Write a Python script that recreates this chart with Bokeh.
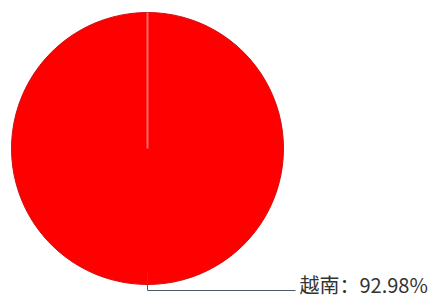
import math
from bokeh.plotting import figure
from bokeh.models import ColumnDataSource, Range1d
from bokeh.core.properties import value
from bokeh.embed import file_html
from bokeh.resources import INLINE

categories = ["越南"]
values = [92.98]
labels = ["越南：92.98%"]

W, H = 439, 300
cx, cy, R = 147, 152, 136

p = figure(width=W, height=H, output_backend="svg", toolbar_location=None,
           x_range=Range1d(0, W), y_range=Range1d(0, H), min_border=0)
p.axis.visible = False
p.grid.visible = False
p.outline_line_color = None
p.background_fill_color = "white"
p.border_fill_color = "white"

total = sum(values)
start = math.pi / 2
starts, ends, mids = [], [], []
for v in values:
    sweep = 2 * math.pi * v / total
    end = start - sweep
    starts.append(start)
    ends.append(end + 1e-4)
    mids.append(start - sweep / 2)
    start = end

src = ColumnDataSource(dict(cat=categories, val=values, s=starts, e=ends))
p.wedge(x=cx, y=cy, radius=R, start_angle="s", end_angle="e", direction="clock",
        fill_color="#ff0000", line_color="#d01010", line_width=1, source=src)

# slice border from center to start of slice
for s in starts:
    p.segment(x0=cx, y0=cy, x1=cx + R * math.cos(s), y1=cy + R * math.sin(s),
              line_color="#f26a6a", line_width=2)

for m, lab in zip(mids, labels):
    x0 = cx + 0.9 * R * math.cos(m)
    y0 = cy + 0.9 * R * math.sin(m)
    ye = 10
    xt = 295
    p.line(x=[x0, x0, xt], y=[y0, ye, ye], line_color="#4a5a6a", line_width=1)
    p.text(x=[xt + 4], y=[ye + 6], text=[lab], text_font=value("Noto Sans CJK SC"),
           text_font_size="20px", text_color="#333333", text_baseline="middle",
           text_align="left")

open("out.html", "w").write(file_html(p, INLINE))
